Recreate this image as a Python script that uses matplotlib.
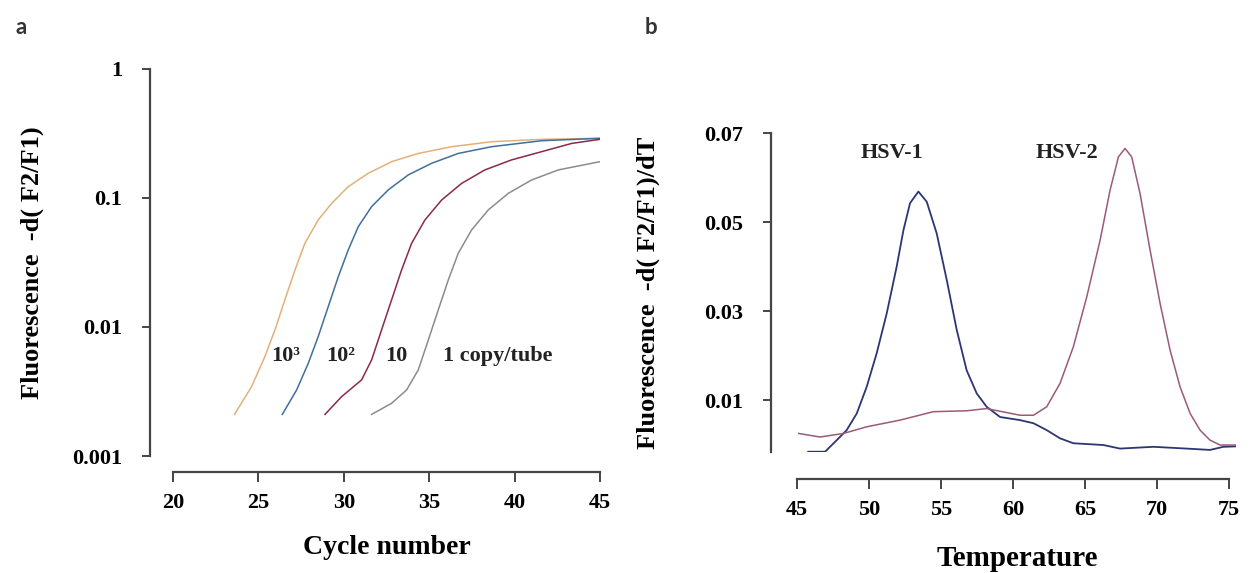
import numpy as np
import matplotlib
matplotlib.use('Agg')
import matplotlib.pyplot as plt

plt.rcParams['font.family'] = ['Liberation Serif', 'DejaVu Serif']
plt.rcParams['font.weight'] = 'bold'

# Панель a: кривые амплификации (цикл, флуоресценция)
cyc_1000 = [23.6, 24.6, 25.38, 25.97, 26.55, 27.14, 27.72, 28.5, 29.29, 30.26, 31.43, 32.8, 34.36,
            36.31, 38.65, 41.58, 45.0]
fl_1000 = [0.0021, 0.00344, 0.00589, 0.00946, 0.0162, 0.0275, 0.0443, 0.0672, 0.0904, 0.1217, 0.1544,
           0.19, 0.22, 0.248, 0.271, 0.283, 0.288]

cyc_100 = [26.4, 27.24, 27.92, 28.5, 29.09, 29.68, 30.26, 30.85, 31.63, 32.6, 33.77, 35.14, 36.7,
           38.65, 41.58, 45.0]
fl_100 = [0.0021, 0.00325, 0.00522, 0.0084, 0.01435, 0.0245, 0.0394, 0.0597, 0.0853, 0.1148, 0.15,
          0.1845, 0.22, 0.248, 0.276, 0.288]

cyc_10 = [28.9, 29.87, 31.04, 31.63, 32.21, 32.8, 33.38, 33.97, 34.75, 35.73, 36.9, 38.26, 39.82,
          41.58, 43.34, 45.0]
fl_10 = [0.0021, 0.00288, 0.00388, 0.00555, 0.00946, 0.0162, 0.0275, 0.0443, 0.0672, 0.096, 0.129,
         0.164, 0.196, 0.227, 0.263, 0.283]

cyc_1 = [31.63, 32.8, 33.68, 34.36, 34.95, 35.53, 36.12, 36.7, 37.48, 38.46, 39.63, 40.99, 42.56, 45.0]
fl_1 = [0.0021, 0.00256, 0.00325, 0.00464, 0.00792, 0.01352, 0.0231, 0.0371, 0.0562, 0.0804, 0.108,
        0.137, 0.164, 0.19]

curve_labels = ['10³', '10²', '10', '1 copy/tube']
label_x = [25.78, 29.0, 32.41, 35.83]

# Панель b: кривые плавления
t_hsv1 = [45.76, 46.93, 47.74, 48.43, 49.13, 49.82, 50.51, 51.21, 51.9, 52.37, 52.83, 53.41, 53.99,
          54.68, 55.38, 56.07, 56.76, 57.46, 58.15, 59.08, 60.47, 61.4, 62.32, 63.25, 64.17, 66.26,
          67.41, 69.73, 72.04, 73.66, 74.59, 75.5]
d_hsv1 = [-0.0016, -0.0016, 0.001, 0.00325, 0.007, 0.013, 0.0205, 0.0295, 0.04, 0.0482, 0.0543,
          0.0569, 0.0546, 0.0475, 0.037, 0.0258, 0.0167, 0.0115, 0.0085, 0.0062, 0.0055, 0.0048,
          0.00325, 0.0014, 0.0003, -0.0001, -0.0009, -0.0005, -0.0009, -0.0012, -0.0005, -0.0004]

t_hsv2 = [45.1, 46.58, 48.2, 49.82, 52.13, 54.45, 56.76, 58.15, 60.47, 61.4, 62.32, 63.25, 64.17,
          65.1, 66.03, 66.72, 67.3, 67.76, 68.22, 68.8, 69.5, 70.19, 70.89, 71.58, 72.28, 72.97,
          73.66, 74.36, 75.5]
d_hsv2 = [0.0025, 0.0017, 0.0025, 0.004, 0.0055, 0.0074, 0.0076, 0.0081, 0.0066, 0.0066, 0.0085,
          0.0138, 0.022, 0.0332, 0.046, 0.0572, 0.0647, 0.0666, 0.0647, 0.0565, 0.0437, 0.0318,
          0.0212, 0.013, 0.007, 0.00325, 0.001, -0.0001, -0.0001]

W, H = 1255, 573
fig = plt.figure(figsize=(W / 100, H / 100), dpi=100)
axis_col = '#454545'


def place(x0, x1, ytop, ybot):
    return [x0 / W, 1 - ybot / H, (x1 - x0) / W, (ybot - ytop) / H]


# ---- панель a ----
ax1 = fig.add_axes(place(173, 600, 68.5, 456))
ax1.set_yscale('log')
ax1.plot(cyc_1000, fl_1000, color='#e3b07a', lw=1.1)
ax1.plot(cyc_100, fl_100, color='#3f6f9c', lw=1.1)
ax1.plot(cyc_10, fl_10, color='#8a2a4a', lw=1.1)
ax1.plot(cyc_1, fl_1, color='#8c8c8c', lw=1.1)
for lab, lx in zip(curve_labels, label_x):
    ax1.text(lx, 0.0059, lab, fontsize=16, fontweight='bold', va='center', ha='left', color='#222222')
ax1.set_xlim(20, 45)
ax1.set_ylim(0.001, 1)
ax1.set_xticks([20, 25, 30, 35, 40, 45])
ax1.set_yticks([1, 0.1, 0.01, 0.001])
ax1.set_yticklabels(['1', '0.1', '0.01', '0.001'])
ax1.minorticks_off()
ax1.set_xlabel('Cycle number', fontsize=20, fontweight='bold', labelpad=16)
ax1.set_ylabel('Fluorescence  -d( F2/F1)', fontsize=19, fontweight='bold', labelpad=20)

# ---- панель b ----
ax2 = fig.add_axes(place(797.3, 1236.5, 133.3, 451.7))
ax2.plot(t_hsv1, d_hsv1, color='#2b3673', lw=1.3)
ax2.plot(t_hsv2, d_hsv2, color='#9a5a78', lw=1.1)
ax2.text(51.6, 0.0656, 'HSV-1', fontsize=16, fontweight='bold', ha='center', va='center', color='#222222')
ax2.text(63.7, 0.0656, 'HSV-2', fontsize=16, fontweight='bold', ha='center', va='center', color='#222222')
ax2.set_xlim(45, 75.5)
ax2.set_ylim(-0.0016, 0.07)
ax2.set_xticks([45, 50, 55, 60, 65, 70, 75])
ax2.set_yticks([0.07, 0.05, 0.03, 0.01])
ax2.set_yticklabels(['0.07', '0.05', '0.03', '0.01'])
ax2.set_xlabel('Temperature', fontsize=21, fontweight='bold', labelpad=18)
ax2.set_ylabel('Fluorescence  -d( F2/F1)/dT', fontsize=19, fontweight='bold', labelpad=32)

# оформление осей в стиле R
for ax, off_l, off_b, xb, yb in [(ax1, 16.6, 11.3, (20, 45), (0.001, 1)),
                                 (ax2, 18.9, 19.9, (45, 75), (-0.0016, 0.07))]:
    ax.spines['top'].set_visible(False)
    ax.spines['right'].set_visible(False)
    ax.spines['left'].set_position(('outward', off_l))
    ax.spines['bottom'].set_position(('outward', off_b))
    ax.spines['left'].set_bounds(*yb)
    ax.spines['bottom'].set_bounds(*xb)
    for s in ['left', 'bottom']:
        ax.spines[s].set_color(axis_col)
        ax.spines[s].set_linewidth(1.6)
    ax.tick_params(axis='y', direction='out', length=6, width=1.4, color=axis_col, pad=14, labelsize=16)
    ax.tick_params(axis='x', direction='out', length=7, width=1.4, color=axis_col, pad=8, labelsize=16)
    for lab in ax.get_xticklabels() + ax.get_yticklabels():
        lab.set_fontweight('bold')

fig.text(15 / W, 1 - 27 / H, 'a', fontsize=16, family='Lato', ha='left', va='center', color='#333333')
fig.text(645 / W, 1 - 27 / H, 'b', fontsize=16, family='Lato', ha='left', va='center', color='#333333')

fig.savefig('out.png', dpi=100, facecolor='white')
